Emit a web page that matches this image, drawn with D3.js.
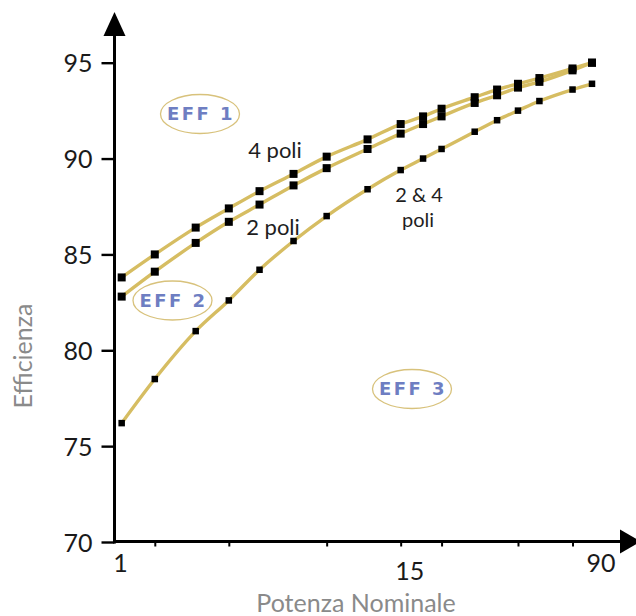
<!DOCTYPE html>
<html>
<head>
<meta charset="utf-8">
<script src="https://cdn.jsdelivr.net/npm/d3@7"></script>
<style>
  html, body { margin: 0; padding: 0; background: #fff; }
  svg { display: block; }
</style>
</head>
<body>
<svg id="chart" width="636" height="616"></svg>
<script>
// ---- data ----
const powers = [1.1, 1.5, 2.2, 3, 4, 5.5, 7.5, 11, 15, 18.5, 22, 30, 37, 45, 55, 75, 90];
const eff1FourPole = [83.8, 85.0, 86.4, 87.4, 88.3, 89.2, 90.1, 91.0, 91.8, 92.2, 92.6, 93.2, 93.6, 93.9, 94.2, 94.7, 95.0];
const eff1TwoPole  = [82.8, 84.1, 85.6, 86.7, 87.6, 88.6, 89.5, 90.5, 91.3, 91.8, 92.2, 92.9, 93.3, 93.7, 94.0, 94.6, 95.0];
const eff2Both     = [76.2, 78.5, 81.0, 82.6, 84.2, 85.7, 87.0, 88.4, 89.4, 90.0, 90.5, 91.4, 92.0, 92.5, 93.0, 93.6, 93.9];
const yTicks = [70, 75, 80, 85, 90, 95];
const xTickMarks = [1.5, 3, 7.5, 15, 22, 45, 75];
const xTickLabels = [1, 15, 90];
const xTitle = "Potenza Nominale";
const yTitle = "Efficienza";

// ---- chart ----
const svg = d3.select("#chart");
const W = 636, H = 616;
svg.append("rect").attr("width", W).attr("height", H).attr("fill", "#fff");

const x = d3.scaleLog().domain([1, 90]).range([111.5, 592]);
const y = d3.scaleLinear().domain([70, 95]).range([542, 62.7]);

const axisX0 = 114.5, axisY0 = 541.5;
const FONT = "Lato, 'Open Sans', sans-serif";
const gold = "#d6bd62";

// Y axis ticks + labels
const yAxis = svg.append("g")
  .attr("transform", `translate(${axisX0},0)`)
  .call(d3.axisLeft(y).tickValues(yTicks).tickSize(13).tickPadding(9).tickFormat(d3.format("d")));
yAxis.select(".domain").remove();
yAxis.selectAll(".tick line").attr("stroke", "#000").attr("stroke-width", 2.4);
yAxis.selectAll(".tick text")
  .attr("font-family", FONT).attr("font-size", 25).attr("fill", "#1a1a1a")
  .attr("dy", "0.36em");

// X axis tick marks
const xAxis = svg.append("g")
  .attr("transform", `translate(0,${axisY0})`)
  .call(d3.axisBottom(x).tickValues(xTickMarks).tickSize(5).tickFormat(""));
xAxis.select(".domain").remove();
xAxis.selectAll(".tick line").attr("stroke", "#000").attr("stroke-width", 2);

// X labels
svg.append("g").selectAll("text").data(xTickLabels).join("text")
  .attr("x", d => x(d) + 9)
  .attr("y", d => d === 15 ? 580 : 572)
  .attr("text-anchor", "middle")
  .attr("font-family", FONT).attr("font-size", 25).attr("fill", "#1a1a1a")
  .text(d => d);

// Axis lines with arrows
svg.append("line").attr("x1", axisX0).attr("x2", axisX0).attr("y1", axisY0 + 2).attr("y2", 30)
  .attr("stroke", "#000").attr("stroke-width", 3);
svg.append("path").attr("d", `M${axisX0},12 L${axisX0 - 11},36 L${axisX0 + 11},36 Z`).attr("fill", "#000");
svg.append("line").attr("x1", axisX0 - 1.5).attr("x2", 625).attr("y1", axisY0).attr("y2", axisY0)
  .attr("stroke", "#000").attr("stroke-width", 3);
svg.append("path").attr("d", `M${641},${axisY0} L${620},${axisY0 - 12} L${620},${axisY0 + 12} Z`).attr("fill", "#000");

// Axis titles
svg.append("text").attr("x", 356).attr("y", 612).attr("text-anchor", "middle")
  .attr("font-family", FONT).attr("font-size", 25).attr("fill", "#8a8a8a").text(xTitle);
svg.append("text").attr("transform", "translate(32,356) rotate(-90)").attr("text-anchor", "middle")
  .attr("font-family", FONT).attr("font-size", 25).attr("fill", "#8a8a8a").text(yTitle);

// Curves
const line = d3.line().x(d => x(d[0])).y(d => y(d[1])).curve(d3.curveMonotoneX);
const series = [
  { vals: eff2Both, size: 6.5 },
  { vals: eff1TwoPole, size: 8 },
  { vals: eff1FourPole, size: 8 }
];
series.forEach(s => {
  const pts = powers.map((p, i) => [p, s.vals[i]]);
  svg.append("path").datum(pts).attr("d", line)
    .attr("fill", "none").attr("stroke", gold).attr("stroke-width", 3.4).attr("stroke-linecap", "round");
});
series.forEach(s => {
  const pts = powers.map((p, i) => [p, s.vals[i]]);
  svg.append("g").selectAll("rect").data(pts).join("rect")
    .attr("x", d => x(d[0]) - s.size / 2)
    .attr("y", d => y(d[1]) - s.size / 2)
    .attr("width", s.size).attr("height", s.size)
    .attr("fill", "#000");
});

// Curve labels
const lab = (t, cx, by, fs) => svg.append("text").attr("x", cx).attr("y", by).attr("text-anchor", "middle")
  .attr("font-family", FONT).attr("font-size", fs).attr("fill", "#1e1e1e").text(t);
lab("4 poli", 275, 158, 22);
lab("2 poli", 273, 235, 22);
lab("2 & 4", 419, 202, 20);
lab("poli", 418, 226.5, 20);

// EFF class badges
const badges = [
  { t: "EFF 1", cx: 200, cy: 114 },
  { t: "EFF 2", cx: 172.5, cy: 300.5 },
  { t: "EFF 3", cx: 412, cy: 389 }
];
badges.forEach(b => {
  svg.append("ellipse").attr("cx", b.cx).attr("cy", b.cy).attr("rx", 39.5).attr("ry", 19.5)
    .attr("fill", "#fff").attr("stroke", "#d8c27c").attr("stroke-width", 1.3);
  svg.append("text").attr("x", b.cx + 1).attr("y", b.cy).attr("dy", "0.36em").attr("text-anchor", "middle")
    .attr("font-family", "'DejaVu Sans', sans-serif").attr("font-weight", "bold")
    .attr("font-size", 18).attr("letter-spacing", 2.5).attr("fill", "#6e7ec2").text(b.t);
});
</script>
</body>
</html>
